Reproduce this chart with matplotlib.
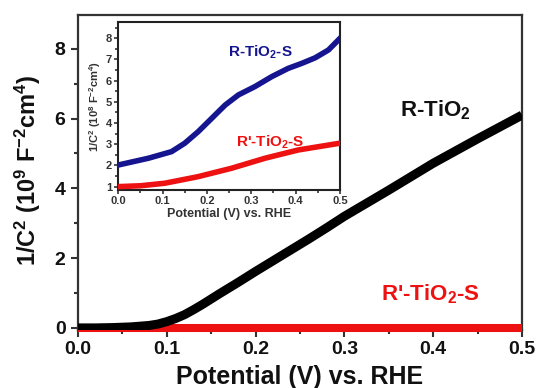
import matplotlib
matplotlib.use("Agg")
import matplotlib.pyplot as plt
from matplotlib.ticker import MultipleLocator, FormatStrFormatter

plt.rcParams['font.family'] = ['Liberation Sans', 'DejaVu Sans']
plt.rcParams['font.weight'] = 'bold'
plt.rcParams['mathtext.fontset'] = 'custom'
plt.rcParams['mathtext.rm'] = 'Liberation Sans:bold'
plt.rcParams['mathtext.it'] = 'Liberation Sans:bold'
plt.rcParams['mathtext.bf'] = 'Liberation Sans:bold'
plt.rcParams['mathtext.default'] = 'rm'

# Main panel data (1/C^2 in 1e9 F^-2 cm^4)
pot_r = [0.0, 0.02, 0.04, 0.06, 0.08, 0.09, 0.10, 0.11, 0.12, 0.13, 0.14, 0.15,
         0.16, 0.18, 0.20, 0.22, 0.24, 0.26, 0.28, 0.30, 0.35, 0.40, 0.45, 0.50]
val_r = [0.0, 0.0, 0.01, 0.03, 0.07, 0.11, 0.18, 0.27, 0.38, 0.52, 0.67, 0.83,
         0.99, 1.3, 1.62, 1.93, 2.24, 2.55, 2.87, 3.2, 3.95, 4.72, 5.42, 6.1]
pot_rs = [0.0, 0.1, 0.2, 0.3, 0.4, 0.5]
val_rs = [0.0, 0.0, 0.0, 0.0, 0.0, 0.0]

# Inset data (1/C^2 in 1e8 F^-2 cm^4)
pot_in_b = [0.0, 0.068, 0.12, 0.15, 0.18, 0.211, 0.241, 0.271, 0.308, 0.346,
            0.383, 0.414, 0.444, 0.474, 0.5]
val_in_b = [2.02, 2.34, 2.65, 3.05, 3.59, 4.23, 4.85, 5.33, 5.72, 6.19,
            6.58, 6.82, 7.08, 7.45, 8.0]
pot_in_r = [0.0, 0.05, 0.105, 0.18, 0.256, 0.331, 0.406, 0.5]
val_in_r = [1.0, 1.04, 1.16, 1.47, 1.87, 2.34, 2.73, 3.05]

W, H = 537, 388
fig = plt.figure(figsize=(W / 100, H / 100), dpi=100)

spine_c = '#333333'
txt_c = '#111111'
red = '#ee1111'
blue = '#15158f'

ax = fig.add_axes([78 / W, 1 - 330 / H, (522 - 78) / W, (330 - 15) / H])
ax.plot(pot_rs, val_rs, color=red, lw=5.8, solid_capstyle='butt', zorder=3, clip_on=False)
ax.plot(pot_r, val_r, color='black', lw=6.5, solid_capstyle='butt',
        solid_joinstyle='round', zorder=4)
ax.set_xlim(0, 0.5)
ax.set_ylim(-0.06, 8.97)
ax.xaxis.set_major_locator(MultipleLocator(0.1))
ax.xaxis.set_minor_locator(MultipleLocator(0.05))
ax.yaxis.set_major_locator(MultipleLocator(2))
ax.yaxis.set_minor_locator(MultipleLocator(1))
ax.xaxis.set_major_formatter(FormatStrFormatter('%.1f'))
ax.tick_params(which='both', direction='out', width=1.5, colors=spine_c, labelcolor=txt_c)
ax.tick_params(which='major', length=5, labelsize=14)
ax.tick_params(axis='x', which='major', pad=3)
ax.tick_params(axis='y', which='major', pad=4)
ax.tick_params(which='minor', length=3)
for s in ax.spines.values():
    s.set_linewidth(1.6)
    s.set_color(spine_c)
ax.set_xlabel('Potential (V) vs. RHE', fontsize=18, fontweight='bold', color=txt_c)
ax.xaxis.set_label_coords(0.5, -0.112)
ax.set_ylabel('1/C$^2$ (10$^9$ F$^{-2}$cm$^4$)', fontsize=17, fontweight='bold', color=txt_c)
ax.yaxis.set_label_coords(-0.079, 0.508)
ax.text(0.402, 6.05, 'R-TiO$_2$', fontsize=16, fontweight='bold', color=txt_c,
        ha='center', va='baseline')
ax.text(0.397, 0.8, "R'-TiO$_2$-S", fontsize=16, fontweight='bold', color=red,
        ha='center', va='baseline')

ins = fig.add_axes([118.3 / W, 1 - 190 / H, (340 - 118.3) / W, (190 - 22) / H])
ins.plot(pot_in_b, val_in_b, color=blue, lw=4, zorder=3, solid_joinstyle='round')
ins.plot(pot_in_r, val_in_r, color=red, lw=4, zorder=3, solid_joinstyle='round')
ins.set_xlim(0, 0.5)
ins.set_ylim(0.84, 8.77)
ins.xaxis.set_major_locator(MultipleLocator(0.1))
ins.xaxis.set_minor_locator(MultipleLocator(0.05))
ins.yaxis.set_major_locator(MultipleLocator(1))
ins.yaxis.set_minor_locator(MultipleLocator(0.5))
ins.xaxis.set_major_formatter(FormatStrFormatter('%.1f'))
ins.tick_params(which='both', direction='out', width=1.2, colors=spine_c, labelcolor='#333333')
ins.tick_params(which='major', length=3, labelsize=8, pad=1.5)
ins.tick_params(which='minor', length=2)
for s in ins.spines.values():
    s.set_linewidth(1.5)
    s.set_color('#222222')
ins.set_xlabel('Potential (V) vs. RHE', fontsize=9, fontweight='bold', labelpad=1, color='#333333')
ins.set_ylabel('1/C$^2$ (10$^8$ F$^{-2}$cm$^4$)', fontsize=8, fontweight='bold', labelpad=2, color='#333333')
ins.text(0.321, 7.12, 'R-TiO$_2$-S', fontsize=11, fontweight='bold', color=blue,
         ha='center', va='baseline')
ins.text(0.342, 2.87, "R'-TiO$_2$-S", fontsize=11, fontweight='bold', color=red,
         ha='center', va='baseline')

fig.savefig('out.png', dpi=100)
